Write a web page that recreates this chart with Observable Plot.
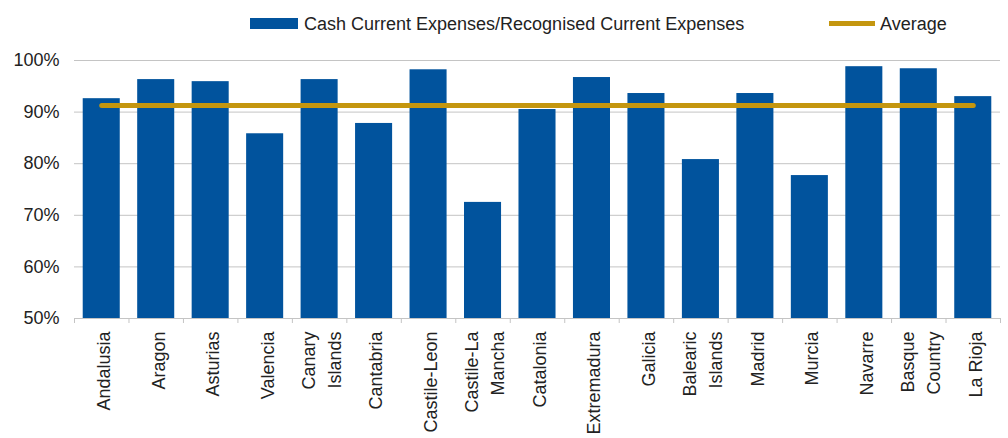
<!DOCTYPE html>
<html><head><meta charset="utf-8">
<script src="https://cdn.jsdelivr.net/npm/d3@7"></script>
<script src="https://cdn.jsdelivr.net/npm/@observablehq/plot@0.6"></script>
<style>
body{margin:0;background:#fff;font-family:"Liberation Sans",Arial,sans-serif;}
#legend{position:relative;height:44px;width:1008px;}
#legend .sw{position:absolute;display:block;}
#legend .lt{position:absolute;top:15px;font-size:18px;line-height:18px;color:#222;white-space:nowrap;}
#chart svg{display:block;}
</style></head><body>
<div id="legend"></div>
<div id="chart"></div>
<script>
const regions = ["Andalusia","Aragon","Asturias","Valencia","Canary\nIslands","Cantabria","Castile-Leon","Castile-La\nMancha","Catalonia","Extremadura","Galicia","Balearic\nIslands","Madrid","Murcia","Navarre","Basque\nCountry","La Rioja"];
const ratio = [92.6, 96.3, 95.9, 85.8, 96.3, 87.8, 98.2, 72.5, 90.5, 96.7, 93.6, 80.8, 93.6, 77.7, 98.8, 98.4, 93.0];
const average = 91.3;
const yTicks = [50, 60, 70, 80, 90, 100];
const seriesNames = ["Cash Current Expenses/Recognised Current Expenses", "Average"];
const colors = ["#01539d", "#c4960f"];

// legend
const leg = d3.select("#legend");
leg.append("span").attr("class","sw").style("left","250px").style("top","18px").style("width","48px").style("height","11px").style("background",colors[0]);
leg.append("span").attr("class","lt").style("left","304px").text(seriesNames[0]);
leg.append("span").attr("class","sw").style("left","829px").style("top","21px").style("width","46px").style("height","5px").style("background",colors[1]);
leg.append("span").attr("class","lt").style("left","880px").text(seriesNames[1]);

const W = 1008, ML = 74, MR = 8;
const step = (W - ML - MR) / regions.length;
const data = regions.map((r, i) => ({region: r, value: ratio[i]}));
const grey = "#c4c4c4";

const chart = Plot.plot({
  width: W, height: 394,
  marginTop: 16, marginBottom: 120, marginLeft: ML, marginRight: MR,
  style: {fontFamily: '"Liberation Sans", Arial, sans-serif', fontSize: "18px", color: "#222", background: "#fff", overflow: "visible"},
  x: {domain: regions, paddingInner: 0.32, paddingOuter: 0.16, round: false, label: null},
  y: {domain: [50, 100], label: null},
  marks: [
    Plot.gridY(yTicks.slice(1), {stroke: grey, strokeOpacity: 1, strokeWidth: 1}),
    Plot.barY(data, {x: "region", y1: 50, y2: "value", fill: colors[0]}),
    Plot.lineY(regions, {x: d => d, y: () => average, stroke: colors[1], strokeWidth: 5}),
    Plot.ruleY([50], {stroke: grey, strokeWidth: 1}),
    Plot.axisY(yTicks, {tickSize: 0, tickPadding: 15, tickFormat: d => d + "%", fontSize: 18, fill: "#222"}),
    Plot.axisX(regions, {tickSize: 5, dx: -step / 2, tickFormat: () => "", stroke: grey, strokeOpacity: 1}),
    Plot.axisX([regions[regions.length - 1]], {tickSize: 5, dx: step / 2, tickFormat: () => "", stroke: grey, strokeOpacity: 1}),
    Plot.axisX(regions, {tickSize: 0, tickPadding: 13, tickRotate: -90, fontSize: 18, lineHeight: 1.45, fill: "#222"})
  ]
});
document.getElementById("chart").appendChild(chart);
</script>
</body></html>
